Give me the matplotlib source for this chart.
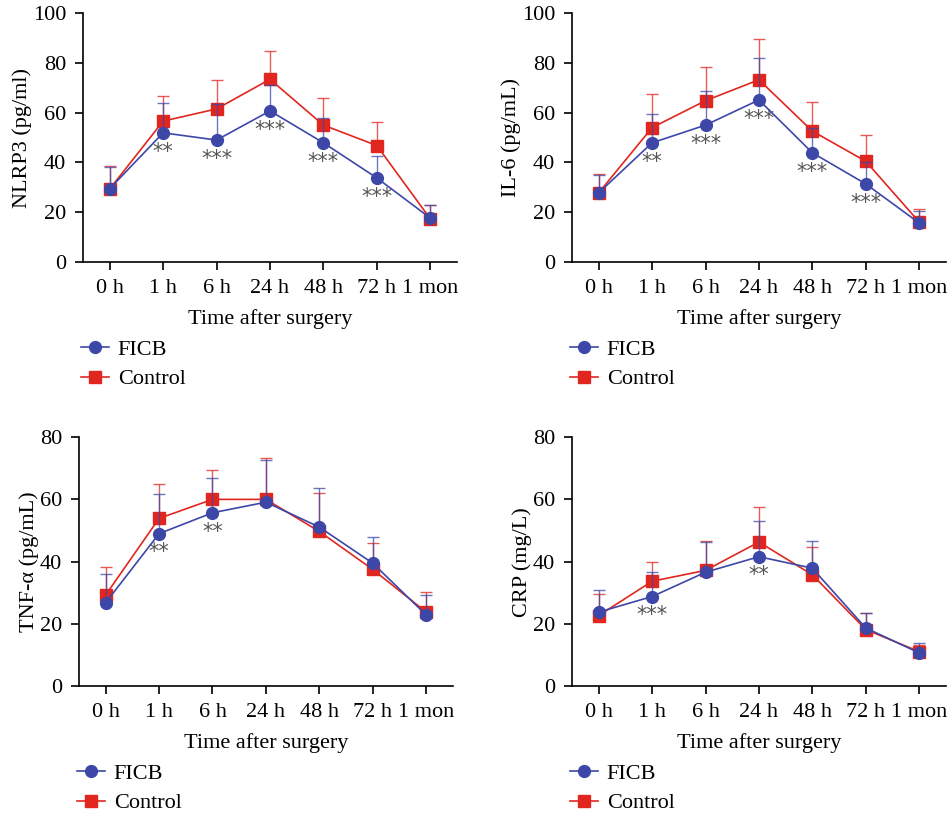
import matplotlib.pyplot as plt
import numpy as np

plt.rcParams['font.family'] = ['Liberation Serif', 'DejaVu Serif']

times = ['0 h', '1 h', '6 h', '24 h', '48 h', '72 h', '1 mon']

# NLRP3 (pg/ml)
nlrp3_ficb = [29.5, 51.9, 49.0, 60.7, 47.9, 33.8, 17.7]
nlrp3_ficb_err = [8.5, 12.1, 14.5, 10.4, 10.0, 9.0, 5.3]
nlrp3_ctrl = [29.4, 56.6, 61.5, 73.4, 55.0, 46.8, 17.4]
nlrp3_ctrl_err = [9.1, 10.0, 11.7, 11.4, 11.0, 9.4, 5.4]
nlrp3_stars = ['', '**', '***', '***', '***', '***', '']

# IL-6 (pg/mL)
il6_ficb = [27.8, 47.9, 55.0, 65.1, 43.9, 31.4, 15.7]
il6_ficb_err = [7.1, 11.4, 13.5, 16.8, 10.1, 8.7, 4.7]
il6_ctrl = [27.8, 54.0, 64.8, 73.2, 52.6, 40.5, 16.1]
il6_ctrl_err = [7.5, 13.5, 13.5, 16.3, 11.8, 10.4, 5.2]
il6_stars = ['', '**', '***', '***', '***', '***', '']

# TNF-a (pg/mL)
tnf_ficb = [26.8, 49.0, 55.7, 59.1, 51.1, 39.5, 22.9]
tnf_ficb_err = [9.1, 12.8, 11.3, 13.4, 12.7, 8.4, 6.5]
tnf_ctrl = [29.3, 53.9, 60.0, 60.0, 49.7, 37.5, 23.8]
tnf_ctrl_err = [9.1, 11.1, 9.5, 13.4, 12.3, 8.6, 6.4]
tnf_stars = ['', '**', '**', '', '', '', '']

# CRP (mg/L)
crp_ficb = [23.8, 28.8, 36.6, 41.6, 37.9, 18.7, 10.7]
crp_ficb_err = [7.2, 8.0, 9.7, 11.4, 8.6, 4.9, 3.2]
crp_ctrl = [22.7, 33.7, 37.2, 46.3, 35.8, 18.2, 11.1]
crp_ctrl_err = [7.0, 6.1, 9.3, 11.4, 8.8, 5.2, 2.0]
crp_stars = ['', '***', '', '**', '', '', '']

blue = '#3d47a8'
red = '#e0261e'
panels = [
    ('NLRP3 (pg/ml)', 100, nlrp3_ficb, nlrp3_ficb_err, nlrp3_ctrl, nlrp3_ctrl_err, nlrp3_stars),
    ('IL-6 (pg/mL)', 100, il6_ficb, il6_ficb_err, il6_ctrl, il6_ctrl_err, il6_stars),
    ('TNF-α (pg/mL)', 80, tnf_ficb, tnf_ficb_err, tnf_ctrl, tnf_ctrl_err, tnf_stars),
    ('CRP (mg/L)', 80, crp_ficb, crp_ficb_err, crp_ctrl, crp_ctrl_err, crp_stars),
]
rects = [
    [0.0875, 0.678, 0.394, 0.306],
    [0.6027, 0.678, 0.394, 0.306],
    [0.0832, 0.157, 0.394, 0.306],
    [0.6027, 0.157, 0.394, 0.306],
]

fig = plt.figure(figsize=(9.49, 8.14), dpi=100)
x = np.arange(len(times))
for rect, (ylab, ymax, fv, fe, cv, ce, stars) in zip(rects, panels):
    ax = fig.add_axes(rect)
    zeros = [0] * len(x)
    ax.errorbar(x, cv, yerr=[zeros, ce], fmt='none', ecolor=red, elinewidth=1.0,
                capsize=4.5, capthick=1.0, alpha=0.75, zorder=2)
    ax.plot(x, cv, color=red, lw=1.2, marker='s', ms=9, mfc=red, mec=red,
            label='Control', zorder=3)
    ax.errorbar(x, fv, yerr=[zeros, fe], fmt='none', ecolor=blue, elinewidth=1.0,
                capsize=4.5, capthick=1.0, alpha=0.75, zorder=4)
    ax.plot(x, fv, color=blue, lw=1.2, marker='o', ms=8.5, mfc=blue, mec=blue,
            label='FICB', zorder=5)
    for xi, yi, s in zip(x, fv, stars):
        if s:
            ax.annotate(s, (xi, yi), xytext=(0, -13.5), textcoords='offset points',
                        ha='center', va='center', fontsize=15, color='#555555',
                        family='DejaVu Sans')
    ax.set_xlim(-0.5, 6.5)
    ax.set_ylim(0, ymax)
    ax.set_yticks(np.arange(0, ymax + 1, 20))
    ax.set_xticks(x)
    ax.set_xticklabels(times)
    ax.spines['top'].set_visible(False)
    ax.spines['right'].set_visible(False)
    ax.spines['left'].set_linewidth(1.2)
    ax.spines['bottom'].set_linewidth(1.2)
    ax.tick_params(labelsize=16, length=6, width=1.2, direction='out', pad=6)
    ax.set_ylabel(ylab, fontsize=16, labelpad=1)
    ax.set_xlabel('Time after surgery', fontsize=16, labelpad=8)
    h, l = ax.get_legend_handles_labels()
    ax.legend(h[::-1], l[::-1], loc='upper left', bbox_to_anchor=(-0.005, -0.31),
              frameon=False, fontsize=16, handlelength=1.25, handletextpad=0.4,
              borderaxespad=0, borderpad=0, labelspacing=0.4)

fig.savefig('out.png', dpi=100)
